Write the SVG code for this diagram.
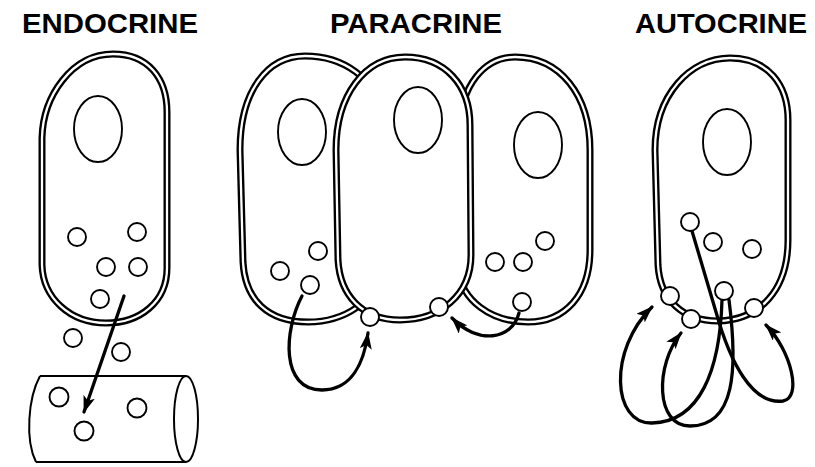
<svg xmlns="http://www.w3.org/2000/svg" width="815" height="467" viewBox="0 0 815 467">
  <defs>
    <marker id="head" markerUnits="userSpaceOnUse" markerWidth="17" markerHeight="12" refX="16" refY="6" orient="auto">
      <path d="M0,0 L17,6 L0,12 L4,6 Z" fill="#000"/>
    </marker>
    <!-- cell outlines, styled where they are used -->
    <path id="endo-outline" d="M42,138 C43,96 72,54 113,54 C148,54 167,78 167,112 L167,268 C167,302 140,323 106,323 C70,323 43,298 42,265 Z"/>
    <path id="para-left" d="M240,150 C240,90 268,56 305,56 C345,56 375,80 380,110 L380,270 C378,300 345,322 308,322 C268,322 245,300 243,262 Z"/>
    <path id="para-right" d="M460,130 C460,85 485,57 515,57 C560,57 590,95 590,150 L590,250 C590,295 565,322 528,322 C490,322 462,300 458,270 Z"/>
    <path id="para-mid" d="M336,150 C336,95 365,57 405,57 C445,57 470,85 470,125 L471,255 C471,295 440,320 400,320 C362,320 340,295 338,260 Z"/>
    <path id="auto-outline" d="M655,150 C655,95 690,58 730,58 C768,58 788,85 788,120 L788,240 C788,290 760,320 718,321 C683,321 660,300 658,265 Z"/>
    <style>
      .title { font-family: "Liberation Sans", Arial, sans-serif; font-weight: bold; font-size: 28px; fill: #000; }
      .mem { fill: #fff; stroke: #000; stroke-width: 7; stroke-linejoin: round; }
      .mem-gap { fill: none; stroke: #fff; stroke-width: 2.3; }
      .nuc { fill: none; stroke: #000; stroke-width: 1.9; }
      .ves { fill: #fff; stroke: #000; stroke-width: 1.9; }
      .vessel { fill: none; stroke: #000; stroke-width: 2; }
      .flow { fill: none; stroke: #000; stroke-width: 3.3; stroke-linecap: round; marker-end: url(#head); }
    </style>
  </defs>
  <rect width="815" height="467" fill="#fff"/>

  <!-- panel titles -->
  <g id="labels">
    <text class="title" x="22" y="33" textLength="176" lengthAdjust="spacingAndGlyphs">ENDOCRINE</text>
    <text class="title" x="330" y="33" textLength="172" lengthAdjust="spacingAndGlyphs">PARACRINE</text>
    <text class="title" x="635" y="33" textLength="172" lengthAdjust="spacingAndGlyphs">AUTOCRINE</text>
  </g>

  <!-- endocrine: secreting cell -->
  <g id="endocrine-cell">
    <use href="#endo-outline" class="mem"/>
    <use href="#endo-outline" class="mem-gap"/>
    <ellipse class="nuc" cx="98" cy="129" rx="24" ry="33"/>
    <circle class="ves" cx="77" cy="237" r="9"/>
    <circle class="ves" cx="137" cy="232" r="9"/>
    <circle class="ves" cx="106" cy="267" r="9"/>
    <circle class="ves" cx="138" cy="267" r="9"/>
    <circle class="ves" cx="100" cy="299" r="9"/>
    <circle class="ves" cx="73" cy="338" r="9"/>
    <circle class="ves" cx="121" cy="352" r="9"/>
  </g>

  <!-- endocrine: blood vessel -->
  <g id="blood-vessel">
    <path class="vessel" d="M40,376 L186,376 M36,462 L186,462 M40,376 C28,398 25,440 36,462"/>
    <ellipse class="vessel" cx="186" cy="419" rx="12" ry="43"/>
    <circle class="ves" cx="59" cy="397" r="9.5"/>
    <circle class="ves" cx="84" cy="431" r="9.5"/>
    <circle class="ves" cx="137" cy="408" r="9.5"/>
  </g>

  <!-- paracrine: neighbouring cells -->
  <g id="paracrine-left-cell">
    <use href="#para-left" class="mem"/>
    <use href="#para-left" class="mem-gap"/>
    <ellipse class="nuc" cx="302" cy="132" rx="24" ry="33"/>
    <circle class="ves" cx="280" cy="271" r="9"/>
    <circle class="ves" cx="318" cy="251" r="9"/>
    <circle class="ves" cx="310" cy="285" r="9"/>
  </g>

  <g id="paracrine-right-cell">
    <use href="#para-right" class="mem"/>
    <use href="#para-right" class="mem-gap"/>
    <ellipse class="nuc" cx="538" cy="145" rx="24" ry="33"/>
    <circle class="ves" cx="495" cy="262" r="9"/>
    <circle class="ves" cx="523" cy="262" r="9"/>
    <circle class="ves" cx="545" cy="241" r="9"/>
    <circle class="ves" cx="522" cy="302" r="9"/>
  </g>

  <g id="paracrine-middle-cell">
    <use href="#para-mid" class="mem"/>
    <use href="#para-mid" class="mem-gap"/>
    <ellipse class="nuc" cx="418" cy="120" rx="24" ry="33"/>
    <circle class="ves" cx="370" cy="317" r="9"/>
    <circle class="ves" cx="439" cy="307" r="9"/>
  </g>

  <!-- autocrine: single cell -->
  <g id="autocrine-cell">
    <use href="#auto-outline" class="mem"/>
    <use href="#auto-outline" class="mem-gap"/>
    <ellipse class="nuc" cx="727" cy="142" rx="24" ry="33"/>
    <circle class="ves" cx="713" cy="242" r="9"/>
    <circle class="ves" cx="752" cy="249" r="9"/>
  </g>

  <!-- signalling routes -->
  <g id="connectors">
    <path class="flow" d="M124,296 L84,412"/>
    <path class="flow" d="M302,296 C284,330 280,390 322,390 C352,390 364,362 368,333"/>
    <path class="flow" d="M519,313 C512,340 478,345 452,318"/>
    <path class="flow" d="M722,300 C720,370 700,422 652,423 C612,424 608,350 652,307"/>
    <path class="flow" d="M729,300 C738,370 735,426 690,426 C655,426 655,365 681,333"/>
    <path class="flow" d="M692,231 L716,312 C730,362 752,405 783,401 C802,398 792,352 766,325"/>
  </g>

  <!-- autocrine vesicles and receptors drawn over the routes -->
  <g id="autocrine-receptors">
    <circle class="ves" cx="690" cy="222" r="9"/>
    <circle class="ves" cx="670" cy="296" r="9"/>
    <circle class="ves" cx="691" cy="319" r="9"/>
    <circle class="ves" cx="724" cy="291" r="9"/>
    <circle class="ves" cx="754" cy="308" r="9"/>
  </g>
</svg>
